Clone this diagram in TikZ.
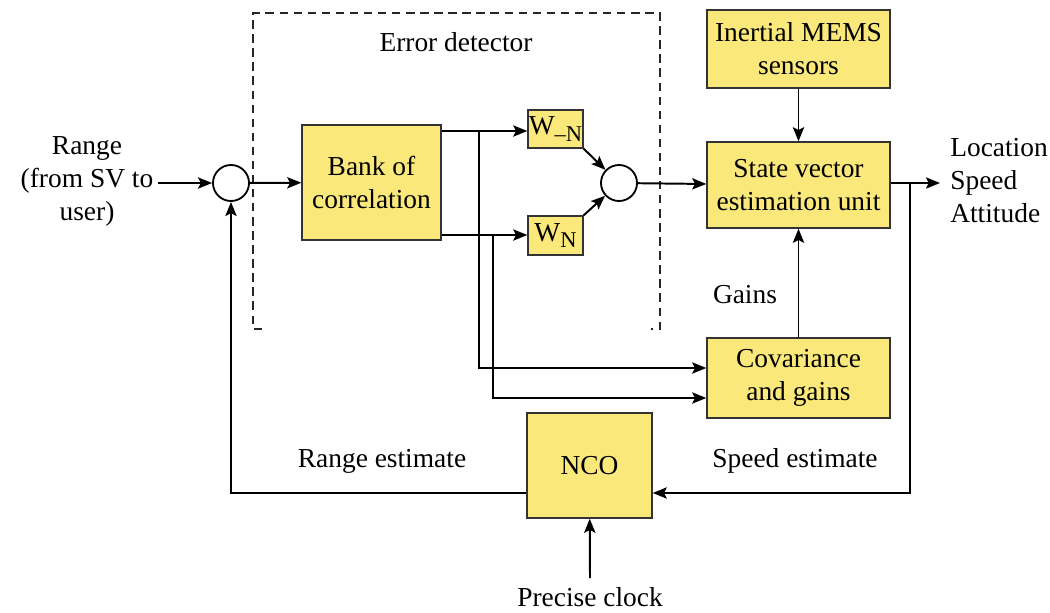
\documentclass[tikz,border=0pt]{standalone}
\usepackage{fontspec}
\setmainfont{Liberation Serif}
\usetikzlibrary{arrows.meta}

\definecolor{boxyellow}{RGB}{250,233,122}

\newcommand{\wsub}[1]{\raisebox{-0.5ex}{\fontsize{16}{16}\selectfont #1}}

\tikzset{
	blk/.style={draw=black!80, line width=1pt, fill=boxyellow, align=center, inner sep=0pt},
	sumc/.style={draw, circle, line width=1.3pt, minimum size=0.9cm, inner sep=0pt},
	lbl/.style={align=center, inner sep=0pt},
	sig/.style={line width=1.4pt, -{Stealth[length=10pt,width=8pt,inset=2pt]}},
	wire/.style={line width=1.4pt}
}

\begin{document}
\begin{tikzpicture}[x=0.025cm, y=-0.025cm, font=\fontsize{19.5}{23.5}\selectfont]

	\useasboundingbox (0,0) rectangle (1050,612);

	% error detector frame, open at the bottom
	\draw[dash pattern=on 6pt off 4pt, line width=0.9pt, black!85] (262,329) -- (253,329) -- (253,13) -- (660,13) -- (660,329) -- (651,329);
	\node[lbl] (errlbl) at (456,42) {Error detector};

	% blocks
	\node[blk, minimum width=3.475cm, minimum height=2.875cm] (bank) at (371.5,182.5) {Bank of\\correlation};
	\node[blk, minimum width=1.375cm, minimum height=0.95cm] (wmn) at (555.5,129) {W\wsub{–N}};
	\node[blk, minimum width=1.375cm, minimum height=0.975cm] (wn) at (555.5,235.5) {W\wsub{N}};
	\node[blk, minimum width=4.575cm, minimum height=2.15cm] (state) at (798.5,185) {State vector\\estimation unit};
	\node[blk, minimum width=4.575cm, minimum height=1.95cm] (mems) at (798.5,49) {Inertial MEMS\\sensors};
	\node[blk, minimum width=4.575cm, minimum height=2.0cm] (cov) at (798.5,378) {Covariance\\and gains};
	\node[blk, minimum width=3.125cm, minimum height=2.625cm] (nco) at (589.5,465.5) {NCO};

	\node[sumc] (s1) at (231,183) {};
	\node[sumc] (s2) at (619,183) {};

	% texts
	\node[lbl] (range) at (87,181) {Range\\(from SV to\\user)};
	\node[lbl, align=left, anchor=west] (outs) at (950,181) {Location\\Speed\\Attitude};
	\node[lbl] (gains) at (745,295) {Gains};
	\node[lbl] (rest) at (382,461) {Range estimate};
	\node[lbl] (sest) at (795,461) {Speed estimate};
	\node[lbl] (clk) at (590,597) {Precise clock};

	\coordinate (in) at (158,183);
	\coordinate (out) at (940,183);
	\coordinate (tapA) at (479,131);
	\coordinate (tapB) at (493,235);
	\coordinate (fb) at (910,183);
	\coordinate (clkin) at (590,578);

	% forward path
	\draw[sig] (in) -- (s1);
	\draw[sig] (s1) -- (bank);
	\draw[sig] (bank.east |- tapA) -- (wmn.west |- tapA);
	\draw[sig] (bank.east |- tapB) -- (wn.west |- tapB);
	\draw[sig] (wmn.south east) -- (s2);
	\draw[sig] (wn.north east) -- (s2);
	\draw[sig] (s2) -- (state);
	\draw[sig] (mems) -- (state);
	\draw[sig] (cov) -- (state);
	\draw[sig] (state.east |- out) -- (out);

	% taps to the covariance block
	\draw[sig] (tapA) |- ([yshift=0.25cm]cov.west);
	\draw[sig] (tapB) |- ([yshift=-0.5cm]cov.west);

	% feedback through the NCO
	\draw[sig] (fb) |- (nco.east |- 0,493);
	\draw[sig] (nco.west |- 0,493) -| (s1);
	\draw[sig] (clkin) -- (nco);

\end{tikzpicture}
\end{document}
